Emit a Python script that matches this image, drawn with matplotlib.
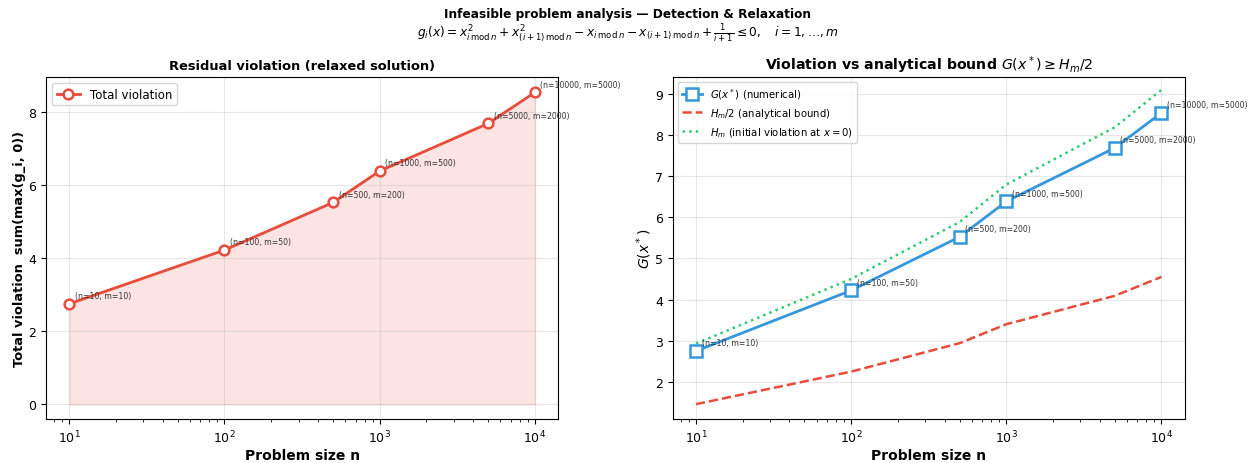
import matplotlib
matplotlib.use('Agg')
import matplotlib.pyplot as plt

# 数据
n_sizes = [10, 100, 500, 1000, 5000, 10000]
m_sizes = [10, 50, 200, 500, 2000, 5000]
total_violation = [2.75, 4.22, 5.52, 6.38, 7.68, 8.53]
h_m = [2.93, 4.50, 5.88, 6.79, 8.18, 9.09]
h_m_half = [1.46, 2.25, 2.94, 3.40, 4.09, 4.55]

RED = '#e74c3c'
BLUE = '#3498db'
GREEN = '#2ecc71'

fig = plt.figure(figsize=(12.55, 4.64), dpi=100)
ax1 = fig.add_axes([0.0367, 0.0948, 0.408, 0.737])
ax2 = fig.add_axes([0.536, 0.0948, 0.408, 0.737])

fig.text(0.5, 0.968, 'Infeasible problem analysis — Detection & Relaxation',
         ha='center', va='center', fontsize=8.7, fontweight='bold')
fig.text(0.5, 0.927,
         r'$g_i(x) = x_{i\,\mathrm{mod}\,n}^2 + x_{(i+1)\,\mathrm{mod}\,n}^2'
         r' - x_{i\,\mathrm{mod}\,n} - x_{(i+1)\,\mathrm{mod}\,n}'
         r' + \frac{1}{i+1} \leq 0, \quad i = 1, \ldots, m$',
         ha='center', va='center', fontsize=8.8)

# 左图：总违反量
ax1.plot(n_sizes, total_violation, '-o', color=RED, lw=2, ms=7,
         mfc='white', mew=1.8, label='Total violation')
ax1.fill_between(n_sizes, 0, total_violation, color=RED, alpha=0.15)
for n, m, v in zip(n_sizes, m_sizes, total_violation):
    ax1.annotate(f'(n={n}, m={m})', (n, v), xytext=(4, 4),
                 textcoords='offset points', fontsize=5.6, color='#333333')
ax1.set_xscale('log')
ax1.set_xlabel('Problem size n', fontsize=10, fontweight='bold', labelpad=2)
ax1.set_ylabel('Total violation  sum(max(g_i, 0))', fontsize=9.4,
               fontweight='bold', labelpad=2)
ax1.set_title('Residual violation (relaxed solution)', fontsize=9.4,
              fontweight='bold')
ax1.set_ylim(-0.4, 8.95)
ax1.grid(True, alpha=0.3)
ax1.legend(loc='upper left', fontsize=8.5)
ax1.tick_params(labelsize=9)

# 右图：与解析下界对比
ax2.plot(n_sizes, total_violation, '-s', color=BLUE, lw=2, ms=8,
         mfc='white', mew=1.8, label=r'$G(x^*)$ (numerical)')
ax2.plot(n_sizes, h_m_half, '--', color=RED, lw=1.8,
         label=r'$H_m/2$ (analytical bound)')
ax2.plot(n_sizes, h_m, ':', color=GREEN, lw=1.8,
         label=r'$H_m$ (initial violation at $x=0$)')
for n, m, v in zip(n_sizes, m_sizes, total_violation):
    ax2.annotate(f'(n={n}, m={m})', (n, v), xytext=(4, 4),
                 textcoords='offset points', fontsize=5.6, color='#333333')
ax2.set_xscale('log')
ax2.set_xlabel('Problem size n', fontsize=10, fontweight='bold', labelpad=2)
ax2.set_ylabel(r'$G(x^*)$', fontsize=10, labelpad=1)
ax2.set_title(r'Violation vs analytical bound $G(x^*) \geq H_m/2$',
              fontsize=10.2, fontweight='bold')
ax2.set_ylim(1.1, 9.4)
ax2.grid(True, alpha=0.3)
ax2.legend(loc='upper left', fontsize=7.3)
ax2.tick_params(labelsize=9)

fig.savefig('out.png', dpi=100)
